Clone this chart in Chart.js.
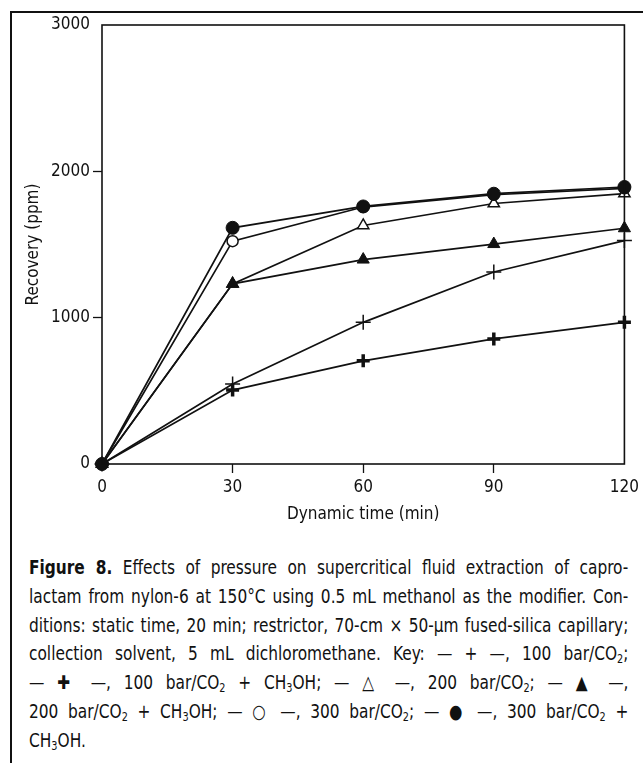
<!DOCTYPE html>
<html>
<head>
<meta charset="utf-8">
<script src="https://cdn.jsdelivr.net/npm/chart.js@4"></script>
<style>
  html, body { margin: 0; padding: 0; background: #fff; }
  body { width: 643px; height: 763px; position: relative; overflow: hidden; }
  .frame { position: absolute; left: 10px; top: 11px; width: 700px; height: 800px;
           border-left: 2px solid #111; border-top: 2px solid #111; }
  #chart { position: absolute; left: 0; top: 0; }
  .caption { position: absolute; left: 29px; top: 553px; width: 666px;
             transform: scaleX(0.9); transform-origin: 0 0;
             font-family: "Liberation Sans Narrow", "DejaVu Sans Condensed", "Roboto", sans-serif;
             font-size: 19px; line-height: 28.8px; color: #111; }
  .caption div { text-align: justify; text-align-last: justify; white-space: nowrap; }
  .caption div.last { text-align-last: left; }
  .caption sub { font-size: 12px; line-height: 0; vertical-align: -3px; }
</style>
</head>
<body>
<div class="frame"></div>
<canvas id="chart" width="643" height="545"></canvas>
<div class="caption">
  <div><b>Figure 8.</b> Effects of pressure on supercritical fluid extraction of capro-</div>
  <div>lactam from nylon-6 at 150°C using 0.5 mL methanol as the modifier. Con-</div>
  <div>ditions: static time, 20 min; restrictor, 70-cm × 50-µm fused-silica capillary;</div>
  <div>collection solvent, 5 mL dichloromethane. Key: — + —, 100 bar/CO<sub>2</sub>;</div>
  <div>— ✚ —, 100 bar/CO<sub>2</sub> + CH<sub>3</sub>OH; — △ —, 200 bar/CO<sub>2</sub>; — ▲ —,</div>
  <div>200 bar/CO<sub>2</sub> + CH<sub>3</sub>OH; — ○ —, 300 bar/CO<sub>2</sub>; — ● —, 300 bar/CO<sub>2</sub> +</div>
  <div class="last">CH<sub>3</sub>OH.</div>
</div>
<script>
// Data (recovery in ppm vs dynamic time in min)
const times = [0, 30, 60, 90, 120];
const co2_100 = [0, 546, 968, 1312, 1527];
const co2_100_meoh = [0, 505, 705, 855, 968];
const co2_200 = [0, 1231, 1630, 1780, 1848];
const co2_200_meoh = [0, 1231, 1397, 1503, 1611];
const co2_300 = [0, 1523, 1756, 1840, 1884];
const co2_300_meoh = [0, 1614, 1760, 1847, 1893];

const yTicks = [0, 1000, 2000, 3000];
const xTicks = [0, 30, 60, 90, 120];

const FONT = '"Liberation Sans Narrow", "DejaVu Sans Condensed", "Roboto", sans-serif';
const INK = "#111";

const pts = (ys) => times.map((t, i) => ({ x: t, y: ys[i] }));

// one dataset per series, drawn in black like the print
const series = (label, ys, style, radius, filled, width) => ({
  label: label,
  data: pts(ys),
  showLine: true,
  borderColor: INK,
  borderWidth: 1.7,
  pointStyle: style,
  pointRadius: radius,
  pointHoverRadius: radius,
  pointBackgroundColor: filled ? INK : "#fff",
  pointBorderColor: INK,
  pointBorderWidth: width,
  clip: false,
});

// draws the box around the plot area
const boxPlugin = {
  id: "box",
  afterDraw(chart) {
    const a = chart.chartArea;
    const ctx = chart.ctx;
    ctx.save();
    ctx.strokeStyle = INK;
    ctx.lineWidth = 1.6;
    ctx.strokeRect(a.left, a.top, a.right - a.left, a.bottom - a.top);
    ctx.restore();
  },
};

new Chart(document.getElementById("chart"), {
  type: "scatter",
  data: {
    datasets: [
      series("300 bar/CO2 + CH3OH", co2_300_meoh, "circle", 6.5, true, 1),
      series("300 bar/CO2", co2_300, "circle", 5.5, false, 1.5),
      series("200 bar/CO2 + CH3OH", co2_200_meoh, "triangle", 7, true, 1),
      series("200 bar/CO2", co2_200, "triangle", 6.5, false, 1.5),
      series("100 bar/CO2 + CH3OH", co2_100_meoh, "cross", 6.5, true, 3.5),
      series("100 bar/CO2", co2_100, "cross", 7.5, false, 1.5),
    ],
  },
  options: {
    responsive: false,
    animation: false,
    layout: { padding: { top: 25, right: 15, left: 0, bottom: 0 } },
    plugins: {
      legend: { display: false },
      tooltip: { enabled: false },
    },
    scales: {
      x: {
        type: "linear",
        min: 0,
        max: 120,
        afterBuildTicks: (s) => { s.ticks = xTicks.map((v) => ({ value: v })); },
        afterFit: (s) => { s.height = 81; },
        border: { display: false },
        grid: {
          drawOnChartArea: false,
          tickLength: 9,
          tickWidth: 1.3,
          tickColor: (c) => (c.tick && [30, 60, 90].includes(c.tick.value) ? INK : "rgba(0,0,0,0)"),
        },
        ticks: { color: INK, padding: 4, font: { family: FONT, size: 17 }, callback: (v) => String(v) },
        title: {
          display: true,
          text: "Dynamic time (min)",
          color: INK,
          font: { family: FONT, size: 17 },
          padding: { bottom: 20 },
        },
      },
      y: {
        type: "linear",
        min: 0,
        max: 3000,
        afterBuildTicks: (s) => { s.ticks = yTicks.map((v) => ({ value: v })); },
        afterFit: (s) => { s.width = 102; },
        border: { display: false },
        grid: {
          drawOnChartArea: false,
          tickLength: 9,
          tickWidth: 1.3,
          tickColor: (c) => (c.tick && [1000, 2000].includes(c.tick.value) ? INK : "rgba(0,0,0,0)"),
        },
        ticks: { color: INK, padding: 3, font: { family: FONT, size: 17 }, callback: (v) => String(v) },
        title: {
          display: true,
          text: "Recovery (ppm)",
          color: INK,
          font: { family: FONT, size: 17 },
          padding: { top: 23 },
        },
      },
    },
  },
  plugins: [boxPlugin],
});
</script>
</body>
</html>
